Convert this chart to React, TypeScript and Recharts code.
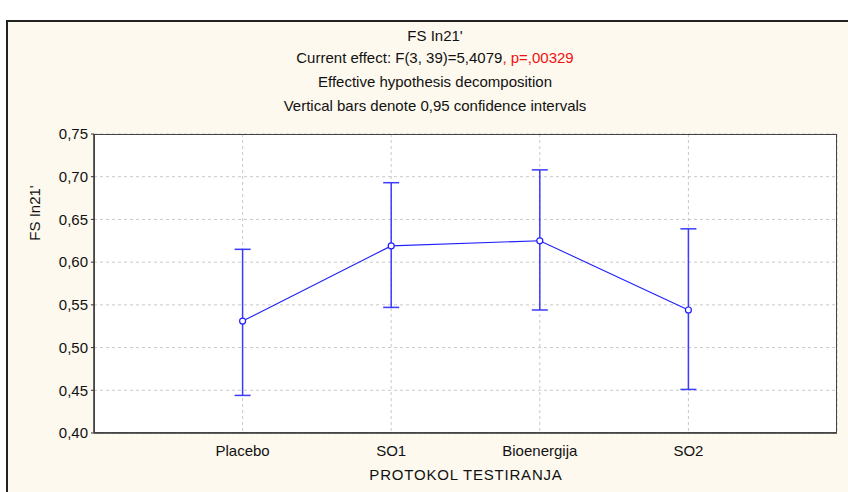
import React from "react";
import { ComposedChart, Line, ErrorBar, XAxis, YAxis, CartesianGrid } from "recharts";

const categories = ["Placebo", "SO1", "Bioenergija", "SO2"];
const means = [0.531, 0.619, 0.625, 0.544];
const lower = [0.444, 0.547, 0.544, 0.451];
const upper = [0.615, 0.693, 0.708, 0.639];
const yTicks = [0.4, 0.45, 0.5, 0.55, 0.6, 0.65, 0.7, 0.75];

const data = categories.map((name, i) => ({
  x: i + 1,
  name,
  mean: means[i],
  err: [means[i] - lower[i], upper[i] - means[i]],
}));

const font = "'Liberation Sans', Arial, sans-serif";
const blue = "#1f1fff";

const txt = (top: number, left: number, width: number, children: React.ReactNode, extra: React.CSSProperties = {}) => (
  <div
    style={{
      position: "absolute",
      top,
      left,
      width,
      textAlign: "center",
      fontFamily: font,
      fontSize: 15,
      lineHeight: "16px",
      color: "#111",
      whiteSpace: "nowrap",
      ...extra,
    }}
  >
    {children}
  </div>
);

export default function App() {
  return (
    <div style={{ position: "absolute", left: 0, top: 0, width: 848, height: 492, background: "#fff", overflow: "hidden" }}>
      <div
        style={{
          position: "absolute",
          left: 6,
          top: 20,
          width: 840,
          height: 480,
          border: "2px solid #222",
          background: "#fdf9ee",
        }}
      />
      <div style={{ position: "absolute", left: 0, top: 0 }}>
        <ComposedChart
          width={848}
          height={492}
          data={data}
          margin={{ top: 134, right: 11, bottom: 29, left: 0 }}
        >
          <CartesianGrid fill="#fff" stroke="#c8c8c8" strokeDasharray="3 3" />
          <XAxis
            dataKey="x"
            type="number"
            domain={[0, 5]}
            ticks={[1, 2, 3, 4]}
            tickFormatter={(v: number) => categories[v - 1] ?? ""}
            height={30}
            axisLine={{ stroke: "#333", strokeWidth: 1.5 }}
            tickLine={false}
            tick={{ fill: "#111", fontSize: 15, fontFamily: font }}
            tickMargin={6}
          />
          <YAxis
            type="number"
            domain={[0.4, 0.75]}
            ticks={yTicks}
            width={94}
            tickFormatter={(v: number) => v.toFixed(2).replace(".", ",")}
            axisLine={{ stroke: "#333", strokeWidth: 1.5 }}
            tickLine={{ stroke: "#333" }}
            tickSize={3}
            tickMargin={3}
            tick={{ fill: "#111", fontSize: 15, fontFamily: font }}
          />
          <Line
            type="linear"
            dataKey="mean"
            stroke={blue}
            strokeWidth={1.1}
            dot={{ r: 3, fill: "#fff", stroke: blue, strokeWidth: 1.2 }}
            activeDot={false}
            isAnimationActive={false}
          >
            <ErrorBar
              dataKey="err"
              direction="y"
              width={8}
              stroke="#3b3bff"
              strokeWidth={1.5}
              isAnimationActive={false}
            />
          </Line>
        </ComposedChart>
      </div>
      <div
        style={{
          position: "absolute",
          left: 94,
          top: 134,
          width: 743,
          height: 299,
          boxSizing: "border-box",
          border: "1px solid #444",
          pointerEvents: "none",
        }}
      />
      {txt(28, 235, 400, "FS In21'")}
      {txt(50, 235, 400, (
        <>
          Current effect: F(3, 39)=5,4079<span style={{ color: "#f01010" }}>, p=,00329</span>
        </>
      ))}
      {txt(74, 235, 400, "Effective hypothesis decomposition")}
      {txt(98, 235, 400, "Vertical bars denote 0,95 confidence intervals")}
      {txt(467, 266, 400, "PROTOKOL TESTIRANJA", { letterSpacing: 0.8 })}
      {txt(205, -15, 100, "FS In21'", { transform: "rotate(-90deg)" })}
    </div>
  );
}
